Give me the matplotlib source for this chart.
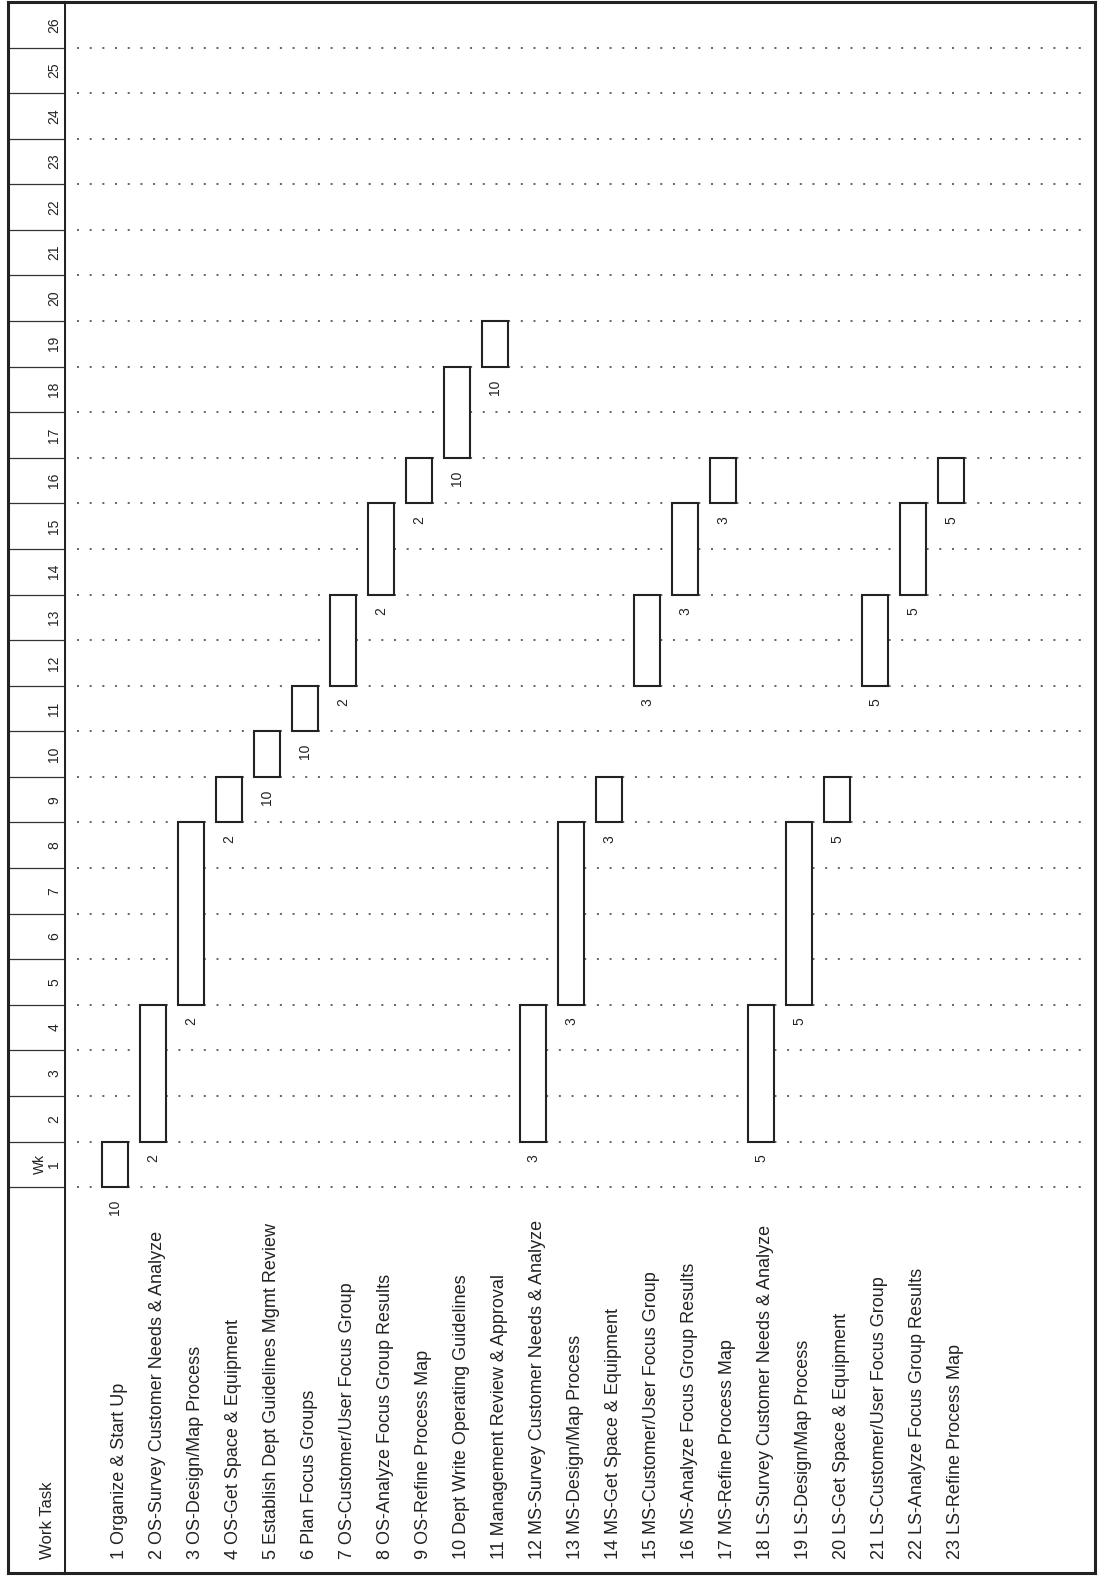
import numpy as np
import matplotlib
matplotlib.use('Agg')
import matplotlib.pyplot as plt

plt.rcParams['font.family'] = ['Liberation Sans', 'DejaVu Sans']

# --- schedule data (week numbers are 1-based) ---
tasks = [
    'Organize & Start Up',
    'OS-Survey Customer Needs & Analyze',
    'OS-Design/Map Process',
    'OS-Get Space & Equipment',
    'Establish Dept Guidelines Mgmt Review',
    'Plan Focus Groups',
    'OS-Customer/User Focus Group',
    'OS-Analyze Focus Group Results',
    'OS-Refine Process Map',
    'Dept Write Operating Guidelines',
    'Management Review & Approval',
    'MS-Survey Customer Needs & Analyze',
    'MS-Design/Map Process',
    'MS-Get Space & Equipment',
    'MS-Customer/User Focus Group',
    'MS-Analyze Focus Group Results',
    'MS-Refine Process Map',
    'LS-Survey Customer Needs & Analyze',
    'LS-Design/Map Process',
    'LS-Get Space & Equipment',
    'LS-Customer/User Focus Group',
    'LS-Analyze Focus Group Results',
    'LS-Refine Process Map',
]
start_week = [1, 2, 5, 9, 10, 11, 12, 14, 16, 17, 19,
              2, 5, 9, 12, 14, 16,
              2, 5, 9, 12, 14, 16]
duration = [1, 3, 4, 1, 1, 1, 2, 2, 1, 2, 1,
            3, 4, 1, 2, 2, 1,
            3, 4, 1, 2, 2, 1]
bar_labels = [10, 2, 2, 2, 10, 10, 2, 2, 2, 10, 10,
              3, 3, 3, 3, 3, 3,
              5, 5, 5, 5, 5, 5]
n_weeks = 26

# --- layout in pixels of the 1098x1577 canvas ---
W, H = 1098, 1577
def box(x0, x1, y0, y1):
    return [x0 / W, 1 - y1 / H, (x1 - x0) / W, (y1 - y0) / H]

fig = plt.figure(figsize=(W / 100, H / 100), dpi=100)
ax = fig.add_axes(box(64, 1095, 2, 1573))
ax_s = fig.add_axes(box(8, 64, 2, 1573), sharey=ax)

ink = '#222222'
x = np.arange(1, len(tasks) + 1)
start = np.array(start_week) - 1

ax.set_xlim(-0.35, 26.78)
ax.set_ylim(-8.465, n_weeks)
ax_s.set_xlim(0, 1)

# dotted week boundaries
ax.hlines(np.arange(0, n_weeks), 0, 26.6, colors='#3a3a3a', lw=1.1,
          linestyles=[(0, (1.3, 7.0))], zorder=1)

# bars
ax.bar(x, duration, bottom=start, width=0.684, color='white',
       edgecolor=ink, linewidth=1.5, zorder=2)

for xi, s, lab in zip(x, start, bar_labels):
    ax.text(xi, s - 0.28, str(lab), rotation=90, ha='center', va='top',
            fontsize=10, color=ink)

for xi, name in zip(x, tasks):
    ax.text(xi + 0.1, -8.15, f'{xi} {name}', rotation=90, ha='center',
            va='bottom', fontsize=13, color=ink)

# week header strip
ax_s.hlines(np.arange(0, n_weeks), 0, 1, colors='#333333', lw=0.9)
for w in range(2, n_weeks + 1):
    ax_s.text(0.83, w - 0.5, str(w), rotation=90, ha='center', va='center',
              fontsize=10, color=ink)
ax_s.text(0.7, 0.5, 'Wk\n1', rotation=90, ha='center', va='center',
          fontsize=10, color=ink, linespacing=1.0)
ax_s.text(0.7, -8.15, 'Work Task', rotation=90, ha='center', va='bottom',
          fontsize=12, color=ink)

for a in (ax, ax_s):
    a.set_xticks([])
    a.set_yticks([])
    for sp in a.spines.values():
        sp.set_linewidth(2.2)
        sp.set_color(ink)
ax_s.spines['right'].set_visible(False)

fig.savefig('out.png', dpi=100)
